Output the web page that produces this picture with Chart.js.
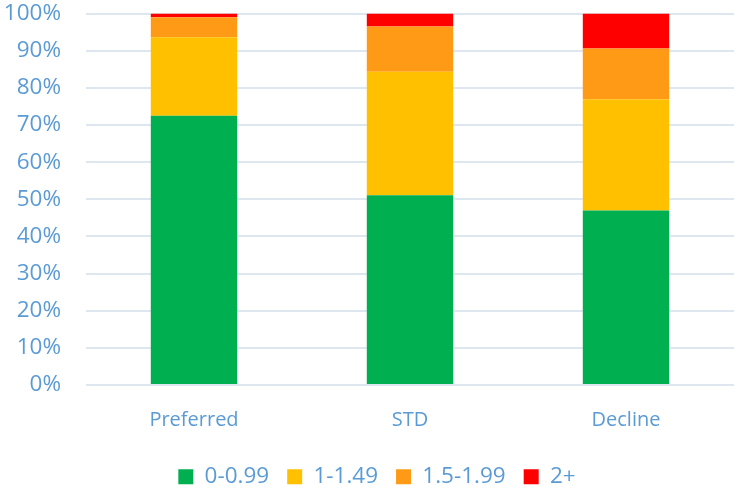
<!DOCTYPE html>
<html>
<head>
<meta charset="utf-8">
<script src="https://cdn.jsdelivr.net/npm/chart.js@4/dist/chart.umd.min.js"></script>
<style>
  html, body { margin: 0; padding: 0; background: #ffffff; }
  #wrap { width: 736px; height: 489px; }
</style>
</head>
<body>
<div id="wrap"><canvas id="chart" width="736" height="489"></canvas></div>
<script>
// Share of each rating band per group (percent)
const categories = ['Preferred', 'STD', 'Decline'];
const seriesNames = ['0-0.99', '1-1.49', '1.5-1.99', '2+'];
const band0to099 = [72.5, 51.1, 47.0];
const band1to149 = [21.1, 33.2, 29.9];
const band15to199 = [5.4, 12.2, 13.7];
const band2plus = [1.0, 3.5, 9.4];
const yTicks = [0, 10, 20, 30, 40, 50, 60, 70, 80, 90, 100];

const colors = ['#00B050', '#FFC000', '#FF9A17', '#FF0000'];
const values = [band0to099, band1to149, band15to199, band2plus];
const textColor = '#5B9BD5';
const fontFamily = '"Open Sans", "Noto Sans", sans-serif';

const datasets = seriesNames.map((name, i) => ({
  label: name,
  data: values[i],
  backgroundColor: colors[i],
  borderWidth: 0,
  categoryPercentage: 1.0,
  barPercentage: 0.4
}));

// Compact legend strip, nudged so it centres under the plot area
const legendPlacement = {
  id: 'legendPlacement',
  beforeInit(chart) {
    const legend = chart.legend;
    if (!legend) return;
    const fit = legend.fit;
    legend.fit = function () {
      fit.call(this);
      this.height = 46;
    };
    const draw = legend.draw;
    legend.draw = function () {
      const ctx = this.ctx;
      ctx.save();
      ctx.translate(10, 4.5);
      draw.call(this);
      ctx.restore();
    };
  }
};

new Chart(document.getElementById('chart'), {
  type: 'bar',
  data: { labels: categories, datasets },
  plugins: [legendPlacement],
  options: {
    responsive: false,
    animation: false,
    layout: { padding: { top: 0, right: 2, left: 0, bottom: 0 } },
    plugins: {
      tooltip: { enabled: false },
      legend: {
        position: 'bottom',
        labels: {
          color: textColor,
          font: { family: fontFamily, size: 22.5 },
          boxWidth: 15,
          boxHeight: 15,
          padding: 18
        }
      }
    },
    scales: {
      x: {
        stacked: true,
        afterFit: (axis) => { axis.height = 58; },
        grid: { display: false, drawTicks: false },
        border: { display: false },
        ticks: {
          color: textColor,
          font: { family: fontFamily, size: 20 },
          padding: 23
        }
      },
      y: {
        stacked: true,
        min: 0,
        max: 100,
        afterBuildTicks: (axis) => { axis.ticks = yTicks.map(v => ({ value: v })); },
        afterFit: (axis) => { axis.width = 86; },
        grid: {
          color: '#DEE6F0',
          lineWidth: 2,
          drawTicks: true,
          tickLength: 25,
          tickColor: 'rgba(0,0,0,0)'
        },
        border: { display: false },
        ticks: {
          color: textColor,
          font: { family: fontFamily, size: 22.5 },
          padding: 0,
          callback: (v) => v + '%'
        }
      }
    }
  }
});
</script>
</body>
</html>
